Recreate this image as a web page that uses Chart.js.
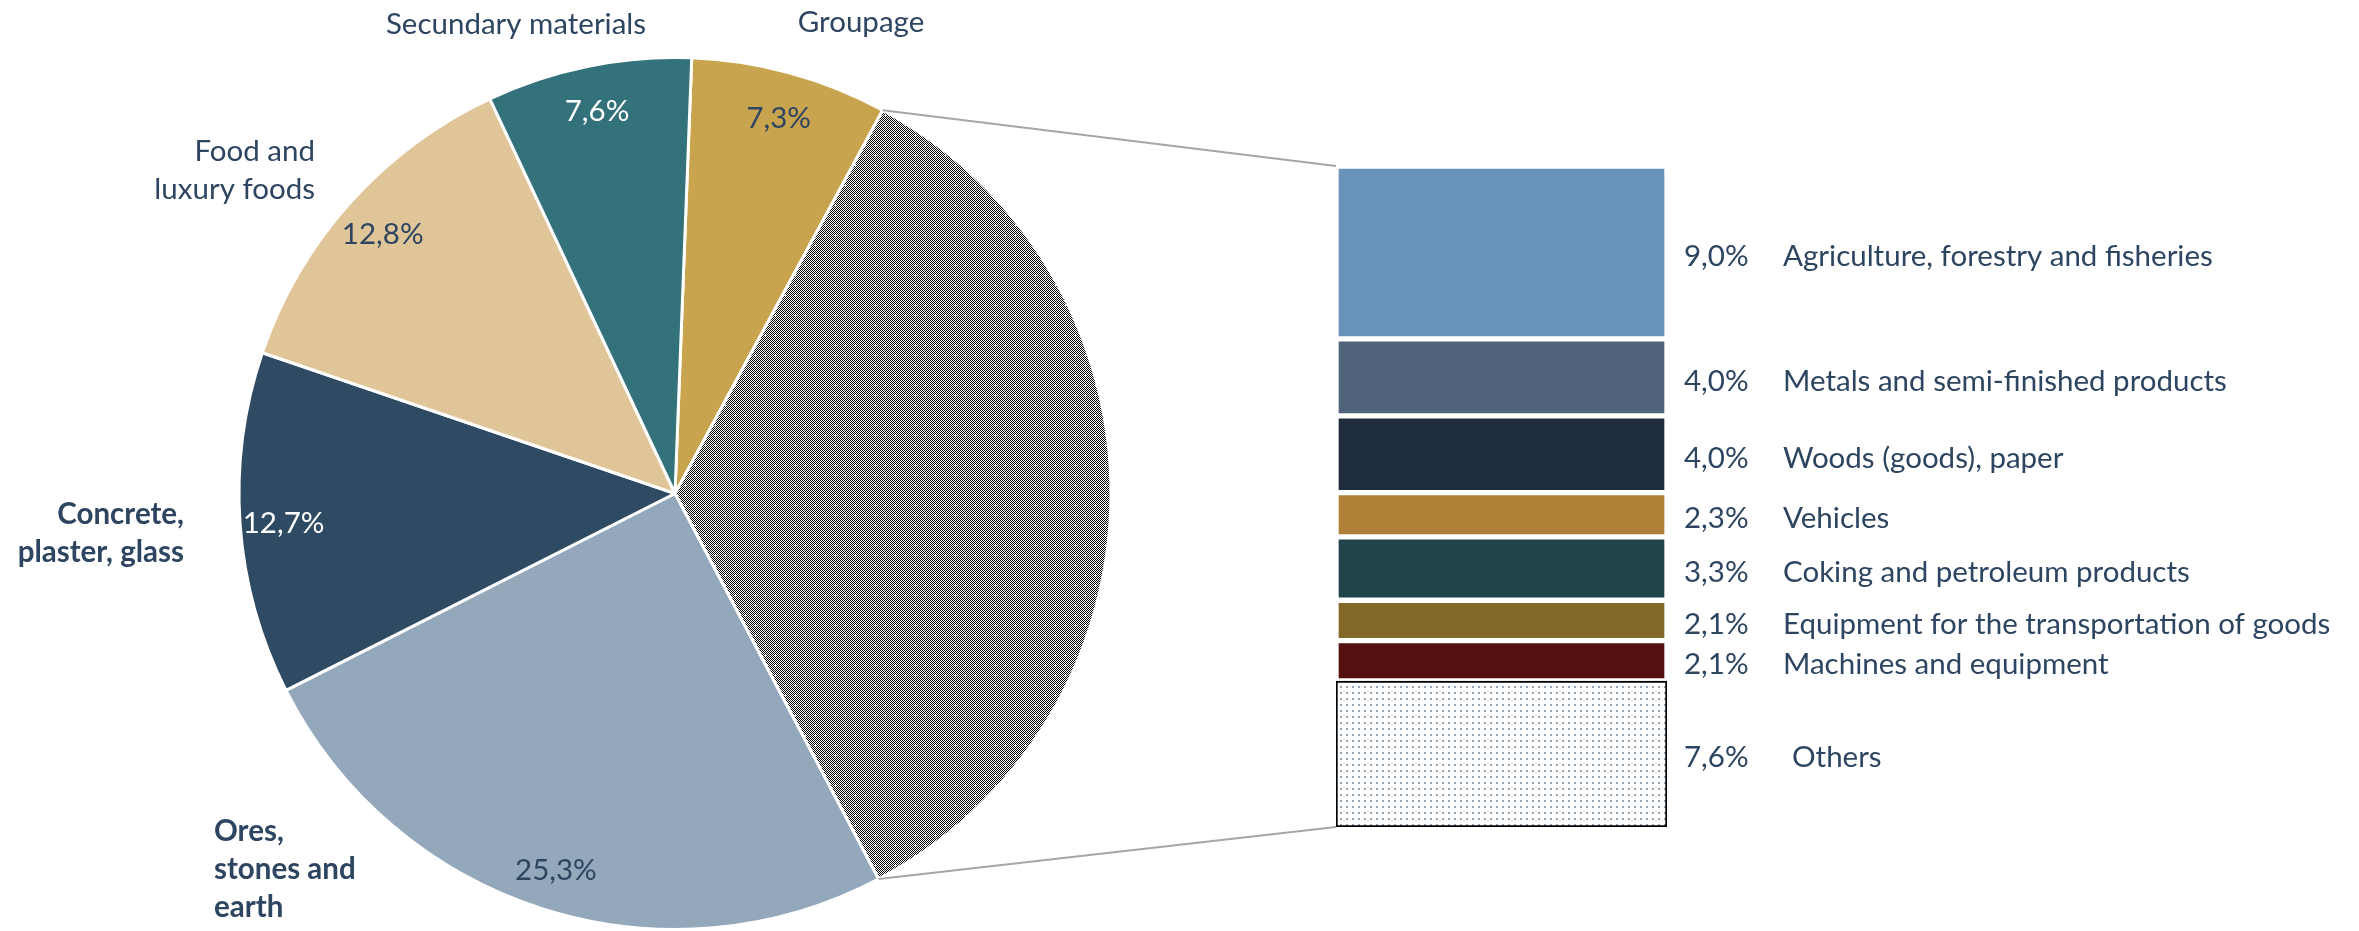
<!DOCTYPE html>
<html>
<head>
<meta charset="utf-8">
<script src="https://cdn.jsdelivr.net/npm/chart.js"></script>
<style>
html, body { margin: 0; padding: 0; background: #fff; overflow: hidden; }
#wrap { position: relative; width: 2359px; height: 931px; }
#wrap canvas { position: absolute; left: 0; top: 0; }
</style>
</head>
<body>
<div id="wrap">
<canvas id="pieChart" width="2359" height="931"></canvas>
<canvas id="barChart" width="2359" height="931"></canvas>
</div>
<script>
// Main pie, clockwise from 12 o'clock
var pieLabels = ['Groupage', 'Others', 'Ores, stones and earth', 'Concrete, plaster, glass', 'Food and luxury foods', 'Secundary materials'];
var pieValues = [7.3, 34.4, 25.3, 12.7, 12.8, 7.6];

// Breakdown of the hatched slice, top to bottom
var barLabels = ['Agriculture, forestry and fisheries', 'Metals and semi-finished products', 'Woods (goods), paper', 'Vehicles', 'Coking and petroleum products', 'Equipment for the transportation of goods', 'Machines and equipment', 'Others'];
var barValues = [9.0, 4.0, 4.0, 2.3, 3.3, 2.1, 2.1, 7.6];

var TEXT = '#2D4560';
var FONT = 'Lato';
var SIZE = 29.5;

function pct(v) {
	return v.toFixed(1).replace('.', ',') + '%';
}

// 1px black/white checker with sparse white crosses (the hatched slice)
function hatchPattern() {
	var s = 10;
	var c = document.createElement('canvas');
	c.width = s; c.height = s;
	var g = c.getContext('2d');
	g.fillStyle = '#fff';
	g.fillRect(0, 0, s, s);
	g.fillStyle = '#000';
	for (var y = 0; y < s; y++) {
		for (var x = 0; x < s; x++) {
			if ((x + y) % 2 === 0) g.fillRect(x, y, 1, 1);
		}
	}
	g.fillStyle = '#fff';
	g.fillRect(4, 5, 3, 1);
	g.fillRect(5, 4, 1, 3);
	return g.createPattern(c, 'repeat');
}

// light dotted fill for "Others"
function dotPattern() {
	var c = document.createElement('canvas');
	c.width = 6; c.height = 6;
	var g = c.getContext('2d');
	g.fillStyle = '#fff';
	g.fillRect(0, 0, 6, 6);
	g.fillStyle = '#93A5B8';
	g.fillRect(2, 2, 2, 2);
	return g.createPattern(c, 'repeat');
}

var pieColors = ['#C9A44F', hatchPattern(), '#94A8BB', '#2F4A63', '#DFC598', '#33717B'];
var pctColors = [TEXT, null, TEXT, '#FFFFFF', TEXT, '#FFFFFF'];

// outside category labels, offsets from the pie centre
var outerLabels = [
	{ lines: ['Groupage'], dx: 186, dy: -471, align: 'center', bold: false },
	null,
	{ lines: ['Ores,', 'stones and', 'earth'], dx: -461, dy: 338, align: 'left', bold: true },
	{ lines: ['Concrete,', 'plaster, glass'], dx: -491, dy: 21, align: 'right', bold: true },
	{ lines: ['Food and', 'luxury foods'], dx: -360, dy: -342, align: 'right', bold: false },
	{ lines: ['Secundary materials'], dx: -159, dy: -469, align: 'center', bold: false }
];

var barColors = ['#6993BB', '#4F647A', '#1F2C3D', '#B08038', '#21444A', '#836828', '#54100E', dotPattern()];

var pieLabelPlugin = {
	id: 'pieLabels',
	afterDatasetsDraw: function (chart) {
		var ctx = chart.ctx;
		var arcs = chart.getDatasetMeta(0).data;
		ctx.save();
		ctx.textBaseline = 'middle';
		arcs.forEach(function (arc, i) {
			var mid = (arc.startAngle + arc.endAngle) / 2;
			if (pctColors[i]) {
				ctx.font = SIZE + 'px ' + FONT;
				ctx.fillStyle = pctColors[i];
				ctx.textAlign = 'center';
				ctx.fillText(pct(pieValues[i]), arc.x + Math.cos(mid) * arc.outerRadius * 0.9, arc.y + Math.sin(mid) * arc.outerRadius * 0.9 + 3);
			}
			var o = outerLabels[i];
			if (o) {
				ctx.font = (o.bold ? 'bold ' : '') + SIZE + 'px ' + FONT;
				ctx.fillStyle = TEXT;
				ctx.textAlign = o.align;
				o.lines.forEach(function (line, k) {
					ctx.fillText(line, arc.x + o.dx, arc.y + o.dy + k * 38);
				});
			}
		});
		ctx.restore();
	}
};

var pieChart = new Chart(document.getElementById('pieChart'), {
	type: 'pie',
	data: {
		labels: pieLabels,
		datasets: [{
			data: pieValues,
			backgroundColor: pieColors,
			borderColor: '#FFFFFF',
			borderWidth: 3
		}]
	},
	options: {
		responsive: false,
		animation: false,
		rotation: 2.2,
		layout: { padding: { left: 237, right: 1246, top: 56, bottom: 0 } },
		plugins: {
			legend: { display: false },
			tooltip: { enabled: false }
		}
	},
	plugins: [pieLabelPlugin]
});

// connector lines + right-hand labels
var barLabelPlugin = {
	id: 'barLabels',
	afterDatasetsDraw: function (chart) {
		var ctx = chart.ctx;
		var n = barValues.length;
		ctx.save();

		var arc = pieChart.getDatasetMeta(0).data[1];
		var topBar = chart.getDatasetMeta(n - 1).data[0];
		var botBar = chart.getDatasetMeta(0).data[0];
		var left = topBar.x - topBar.width / 2;
		ctx.strokeStyle = '#A6A6A6';
		ctx.lineWidth = 2;
		ctx.beginPath();
		ctx.moveTo(arc.x + Math.cos(arc.startAngle) * arc.outerRadius, arc.y + Math.sin(arc.startAngle) * arc.outerRadius);
		ctx.lineTo(left, topBar.y);
		ctx.moveTo(arc.x + Math.cos(arc.endAngle) * arc.outerRadius, arc.y + Math.sin(arc.endAngle) * arc.outerRadius);
		ctx.lineTo(left, botBar.base);
		ctx.stroke();

		ctx.font = SIZE + 'px ' + FONT;
		ctx.fillStyle = TEXT;
		ctx.textBaseline = 'middle';
		ctx.textAlign = 'left';
		for (var d = 0; d < n; d++) {
			var i = n - 1 - d;
			var el = chart.getDatasetMeta(d).data[0];
			var cy = (el.y + el.base) / 2 + 4;
			var right = el.x + el.width / 2;
			ctx.fillText(pct(barValues[i]), right + 17, cy);
			ctx.fillText(barLabels[i], right + (d === 0 ? 125 : 116), cy);
		}
		ctx.restore();
	}
};

// stacked bottom-up, so reverse the top-to-bottom lists
var barSets = [];
for (var i = barValues.length - 1; i >= 0; i--) {
	var isOthers = i === barValues.length - 1;
	barSets.push({
		label: barLabels[i],
		data: [barValues[i]],
		backgroundColor: barColors[i],
		borderColor: isOthers ? '#000000' : '#FFFFFF',
		borderWidth: isOthers ? 2 : 3,
		borderSkipped: false,
		barPercentage: 1,
		categoryPercentage: 1
	});
}

var barTotal = barValues.reduce(function (a, b) { return a + b; }, 0);

new Chart(document.getElementById('barChart'), {
	type: 'bar',
	data: {
		labels: [''],
		datasets: barSets
	},
	options: {
		responsive: false,
		animation: false,
		layout: { padding: { left: 1336, right: 692, top: 166, bottom: 104 } },
		scales: {
			x: { stacked: true, display: false },
			y: { stacked: true, display: false, min: 0, max: barTotal }
		},
		plugins: {
			legend: { display: false },
			tooltip: { enabled: false }
		}
	},
	plugins: [barLabelPlugin]
});
</script>
</body>
</html>
